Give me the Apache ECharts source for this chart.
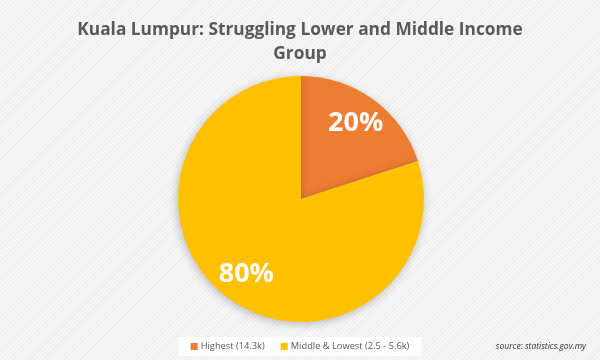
<!DOCTYPE html>
<html><head><meta charset="utf-8">
<script src="https://cdn.jsdelivr.net/npm/echarts@6/dist/echarts.min.js"></script>
<style>
html,body{margin:0;padding:0;}
body{width:600px;height:360px;background:#f4f4f4 repeating-linear-gradient(135deg,#f7f7f7 0px,#f7f7f7 2px,#eeeeee 2px,#eeeeee 3px);}
#c{width:600px;height:360px;}
</style></head><body>
<div id="c"></div>
<script>
const titleText = "Kuala Lumpur: Struggling Lower and Middle Income\nGroup";
const categories = ["Highest (14.3k)", "Middle & Lowest (2.5 - 5.6k)"];
const values = [20, 80];
const colors = ["#ED7D31", "#FFC000"];
const sourceText = "source: statistics.gov.my";

const data = categories.map((c, i) => ({ name: c, value: values[i], itemStyle: { color: colors[i] } }));
const chart = echarts.init(document.getElementById('c'), null, { renderer: 'canvas' });
chart.setOption({
  animation: false,
  backgroundColor: 'transparent',
  title: [{
    text: titleText,
    left: 'center', top: 13,
    textStyle: { fontFamily: 'Open Sans', fontWeight: 'bold', fontSize: 17.3, color: '#595959', lineHeight: 24 }
  }, {
    text: sourceText,
    right: 9, bottom: 4,
    textStyle: { fontFamily: 'Open Sans', fontStyle: 'italic', fontWeight: 'normal', fontSize: 8.5, color: '#333' }
  }],
  legend: {
    bottom: 4, left: 'center',
    data: categories,
    icon: 'rect', itemWidth: 7, itemHeight: 7, itemGap: 16,
    backgroundColor: '#ffffff', padding: [5, 12],
    textStyle: { fontFamily: 'Open Sans', fontSize: 9.3, color: '#595959', padding: [0, 0, 0, -2] }
  },
  series: [{
    type: 'pie',
    center: [301, 199], radius: [0, 123],
    startAngle: 90, clockwise: true,
    label: { show: false }, labelLine: { show: false },
    itemStyle: { shadowBlur: 10, shadowColor: 'rgba(0,0,0,0.25)', shadowOffsetX: -1, shadowOffsetY: 2 },
    emphasis: { disabled: true },
    data: data
  }, {
    type: 'pie',
    center: [301, 199], radius: [57, 123],
    startAngle: 90, clockwise: true, silent: true,
    legendHoverLink: false,
    itemStyle: { color: 'transparent' },
    label: { show: true, position: 'inside', formatter: '{d}%', color: '#fff', fontFamily: 'Open Sans', fontWeight: 'bold', fontSize: 27 },
    labelLine: { show: false },
    emphasis: { disabled: true },
    data: categories.map((c, i) => ({ name: c, value: values[i], itemStyle: { color: 'transparent' } }))
  }]
});
</script>
</body></html>
